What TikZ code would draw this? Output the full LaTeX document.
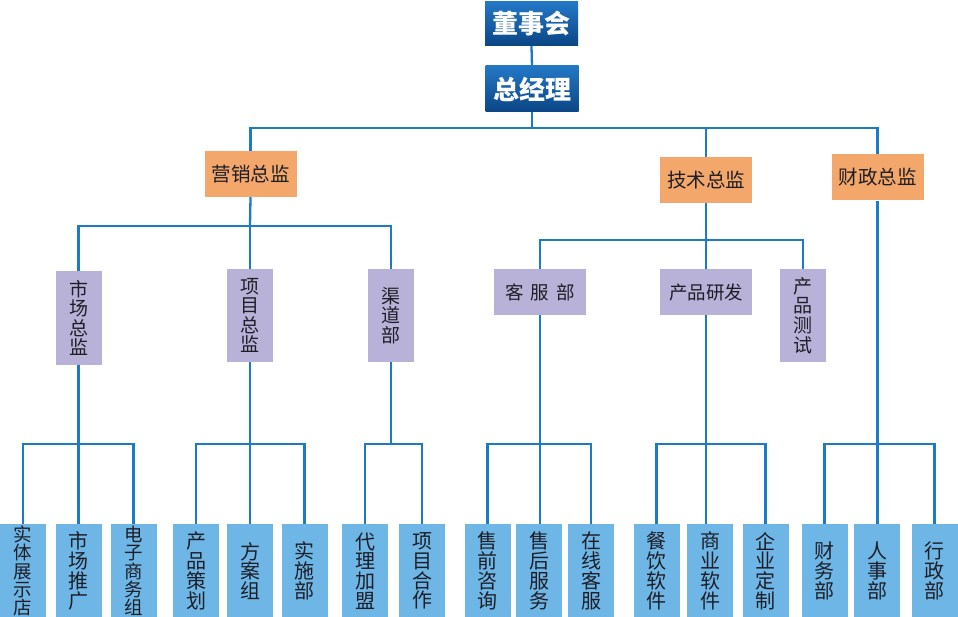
\documentclass[tikz,border=0pt]{standalone}
\usepackage{fontspec}
\newfontfamily\cjk{Noto Sans CJK SC}
\definecolor{linec}{HTML}{1B7BC6}
\definecolor{orangec}{HTML}{F3A76A}
\definecolor{purplec}{HTML}{B8B1D8}
\definecolor{bluec}{HTML}{6DB6E6}
\definecolor{topA}{HTML}{2378C6}
\definecolor{topB}{HTML}{0B4585}
\definecolor{txt}{HTML}{1E1E26}
\tikzset{
  conn/.style={draw=linec, line width=2.3pt},
  topbox/.style={top color=topA, bottom color=topB, draw=none, text=white, inner sep=0pt,
     minimum width=93pt, minimum height=44pt, font=\cjk\bfseries\fontsize{26}{28}\selectfont},
  obox/.style={fill=orangec, draw=none, text=txt, inner sep=0pt,
     minimum width=92pt, minimum height=46pt, font=\cjk\fontsize{19.5}{21}\selectfont},
  phbox/.style={fill=purplec, draw=none, text=txt, inner sep=0pt,
     minimum width=92pt, minimum height=46pt, font=\cjk\fontsize{18.5}{20}\selectfont},
  pvbox/.style={fill=purplec, draw=none, text=txt, inner sep=0pt, align=center,
     minimum width=46pt, minimum height=93pt, font=\cjk\fontsize{19}{19.6}\selectfont},
  bbox/.style={fill=bluec, draw=none, text=txt, inner sep=0pt, align=center,
     minimum width=46pt, minimum height=94pt, font=\cjk\fontsize{20}{19.8}\selectfont},
  bboxf/.style={bbox, font=\cjk\fontsize{18.5}{18.3}\selectfont},
}
\begin{document}
\begin{tikzpicture}[x=1pt,y=-1pt]
\useasboundingbox (0,0) rectangle (958,617);
\clip (0,0) rectangle (958,617);
\fill[white] (0,0) rectangle (958,617);
% bus coordinates
\coordinate (bus0) at (532,128);
\coordinate (bus1) at (250,226);
\coordinate (bus2) at (706,240);
\coordinate (g1) at (78.5,444);
\coordinate (g2) at (250,444);
\coordinate (g3) at (391,444);
\coordinate (g4) at (540,444);
\coordinate (g5) at (706,444);
\coordinate (g6) at (877.5,444);
% top
\node[topbox] (dsh) at (531.5,24) {董事会};
\node[topbox, minimum height=46pt] (zjl) at (532,89) {总经理};
% directors
\node[obox] (yx) at (250.5,174) {营销总监};
\node[obox] (js) at (706,180) {技术总监};
\node[obox] (cz) at (877.5,177.5) {财政总监};
% second level
\node[pvbox] (sc) at (78.5,318) {市\\场\\总\\监};
\node[pvbox] (xm) at (250,315.5) {项\\目\\总\\监};
\node[pvbox] (qd) at (391,315.5) {渠\\道\\部};
\node[phbox] (kf) at (540,292) {客\hspace{7pt}服\hspace{7pt}部};
\node[phbox] (cy) at (706,292) {产品研发};
\node[pvbox] (cs) at (803,315.5) {产\\品\\测\\试};
% bottom
\node[bboxf] (b1) at (23,571) {实\\体\\展\\示\\店};
\node[bbox] (b2) at (78.5,571) {市\\场\\推\\广};
\node[bboxf] (b3) at (133.5,571) {电\\子\\商\\务\\组};
\node[bbox] (b4) at (196,571) {产\\品\\策\\划};
\node[bbox] (b5) at (250,571) {方\\案\\组};
\node[bbox] (b6) at (304.5,571) {实\\施\\部};
\node[bbox] (b7) at (365,571) {代\\理\\加\\盟};
\node[bbox] (b8) at (422,571) {项\\目\\合\\作};
\node[bbox] (b9) at (487.5,571) {售\\前\\咨\\询};
\node[bbox] (b10) at (539,571) {售\\后\\服\\务};
\node[bbox] (b11) at (591,571) {在\\线\\客\\服};
\node[bbox] (b12) at (656.5,571) {餐\\饮\\软\\件};
\node[bbox] (b13) at (710,571) {商\\业\\软\\件};
\node[bbox] (b14) at (765.5,571) {企\\业\\定\\制};
\node[bbox] (b15) at (824.5,571) {财\\务\\部};
\node[bbox] (b16) at (877,571) {人\\事\\部};
\node[bbox] (b17) at (934.5,571) {行\\政\\部};
% connectors
\draw[conn] (dsh.south) -- (zjl.north);
\draw[conn] (zjl.south) -- (bus0);
\draw[conn] (yx.north) |- (bus0) -| (cz.north);
\draw[conn] (js.north) -- (js.north |- bus0);
\draw[conn] (yx.south) -- (bus1);
\draw[conn] (sc.north) |- (bus1) -| (qd.north);
\draw[conn] (xm.north) -- (xm.north |- bus1);
\draw[conn] (js.south) -- (bus2);
\draw[conn] (kf.north) |- (bus2) -| (cs.north);
\draw[conn] (cy.north) -- (cy.north |- bus2);
% lower
\draw[conn] (sc.south) -- (g1);
\draw[conn] (b1.north) |- (g1) -| (b3.north);
\draw[conn] (g1) -- (g1 |- b2.north);
\draw[conn] (xm.south) -- (g2);
\draw[conn] (b4.north) |- (g2) -| (b6.north);
\draw[conn] (g2) -- (g2 |- b5.north);
\draw[conn] (qd.south) -- (g3);
\draw[conn] (b7.north) |- (g3) -| (b8.north);
\draw[conn] (kf.south) -- (g4);
\draw[conn] (b9.north) |- (g4) -| (b11.north);
\draw[conn] (g4) -- (g4 |- b10.north);
\draw[conn] (cy.south) -- (g5);
\draw[conn] (b12.north) |- (g5) -| (b14.north);
\draw[conn] (g5) -- (g5 |- b13.north);
\draw[conn] (cz.south) -- (g6);
\draw[conn] (b15.north) |- (g6) -| (b17.north);
\draw[conn] (g6) -- (g6 |- b16.north);
\end{tikzpicture}
\end{document}
